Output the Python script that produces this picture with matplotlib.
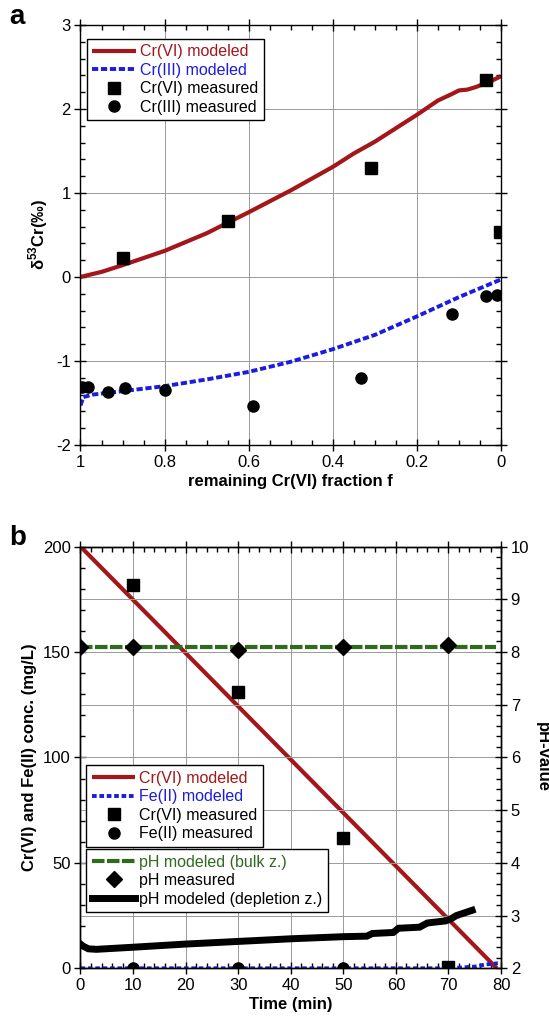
import numpy as np
import matplotlib
matplotlib.use('Agg')
from matplotlib import pyplot as plt
from matplotlib.ticker import MultipleLocator, FormatStrFormatter

plt.rcParams['font.family'] = ['Liberation Sans', 'DejaVu Sans']
plt.rcParams['mathtext.fontset'] = 'custom'
plt.rcParams['mathtext.rm'] = 'Liberation Sans'
plt.rcParams['mathtext.bf'] = 'Liberation Sans:bold'
plt.rcParams['axes.unicode_minus'] = False

RED = '#a3161a'
BLUE = '#1c1ce0'
GREEN = '#2f6a1f'

# ---- panel a: d53Cr vs remaining Cr(VI) fraction
f_cr6_model = [1.0, 0.95, 0.9, 0.8, 0.7, 0.6, 0.5, 0.4, 0.35, 0.3, 0.25, 0.2, 0.15, 0.12, 0.1, 0.08, 0.06, 0.04, 0.02, 0.0]
d_cr6_model = [0.0, 0.06, 0.14, 0.31, 0.52, 0.77, 1.03, 1.31, 1.47, 1.61, 1.77, 1.93, 2.1, 2.17, 2.22, 2.23, 2.26, 2.3, 2.34, 2.39]
f_cr3_model = [1.0, 0.993, 0.97, 0.9, 0.8, 0.7, 0.6, 0.5, 0.4, 0.3, 0.2, 0.1, 0.0]
d_cr3_model = [-1.53, -1.43, -1.40, -1.36, -1.30, -1.22, -1.13, -1.01, -0.86, -0.69, -0.47, -0.24, -0.03]
f_cr6_meas = [0.90, 0.65, 0.31, 0.035, 0.003]
d_cr6_meas = [0.23, 0.66, 1.30, 2.35, 0.53]
f_cr3_meas = [0.996, 0.982, 0.934, 0.894, 0.80, 0.59, 0.333, 0.117, 0.036, 0.009]
d_cr3_meas = [-1.31, -1.31, -1.37, -1.32, -1.35, -1.54, -1.20, -0.44, -0.23, -0.21]

# ---- panel b: concentrations and pH vs time
t_cr6_model = [0, 79.2]
c_cr6_model = [200, 0]
t_fe2_model = [0, 70, 72, 75, 77, 79.4]
c_fe2_model = [0, 0, 0.3, 0.8, 1.8, 2.4]
t_meas = [10, 30, 50, 70]
c_cr6_meas = [181.6, 131.2, 61.9, 0.5]
t_fe2_meas = [10, 30, 50]
c_fe2_meas = [0, 0, 0]
t_ph_bulk = [0, 79.1]
ph_bulk = [8.1, 8.1]
t_ph_meas = [0, 10, 30, 50, 70]
ph_meas = [8.09, 8.09, 8.03, 8.09, 8.14]
t_ph_depl = [0, 0.5, 1.5, 3, 10, 20, 30, 40, 50, 54.5, 55.5, 59.5, 60.5, 64.5, 66, 69.5, 70.5, 71.5, 73, 74.5]
ph_depl = [2.46, 2.42, 2.37, 2.36, 2.40, 2.46, 2.51, 2.56, 2.60, 2.61, 2.66, 2.68, 2.76, 2.78, 2.86, 2.90, 2.94, 3.00, 3.05, 3.10]


def style_axis(ax, left=True, right=True):
    ax.tick_params(which='major', direction='inout', length=8, width=1, labelsize=12, pad=3,
                   top=True, bottom=True, left=left, right=right)
    ax.tick_params(which='minor', direction='in', length=3.5, width=1,
                   top=True, bottom=True, left=left, right=right)
    for s in ax.spines.values():
        s.set_linewidth(1.0)


def color_legend(leg, colors):
    for txt, c in zip(leg.get_texts(), colors):
        txt.set_color(c)
    leg.get_frame().set_linewidth(1.0)
    leg.get_frame().set_edgecolor('black')


fig = plt.figure(figsize=(5.49, 10.25), dpi=100)
leg_kw = dict(fontsize=11.5, frameon=True, fancybox=False, framealpha=1, borderaxespad=0,
              handlelength=2.75, handletextpad=0.25, labelspacing=0.22, borderpad=0.35)

# panel a
axa = fig.add_axes([0.1466, 0.5659, 0.766, 0.4098])
axa.grid(True, which='major', color='#9a9a9a', lw=0.7)
axa.set_axisbelow(True)
l1, = axa.plot(f_cr6_model, d_cr6_model, color=RED, lw=3, solid_capstyle='butt')
l2, = axa.plot(f_cr3_model, d_cr3_model, color=BLUE, lw=2.8, ls=(0, (1.6, 0.7)))
m1, = axa.plot(f_cr6_meas, d_cr6_meas, 's', color='black', ms=8.5, ls='none')
m2, = axa.plot(f_cr3_meas, d_cr3_meas, 'o', color='black', ms=8, ls='none')
axa.set_xlim(1, 0)
axa.set_ylim(-2, 3)
axa.xaxis.set_major_locator(MultipleLocator(0.2))
axa.xaxis.set_minor_locator(MultipleLocator(0.05))
axa.yaxis.set_major_locator(MultipleLocator(1))
axa.yaxis.set_minor_locator(MultipleLocator(0.2))
axa.xaxis.set_major_formatter(FormatStrFormatter('%g'))
axa.yaxis.set_major_formatter(FormatStrFormatter('%g'))
style_axis(axa)
axa.tick_params(labelright=False)
axa.set_xlabel('remaining Cr(VI) fraction f', fontsize=12, fontweight='bold', labelpad=3)
axa.set_ylabel('δ$^{\\mathbf{53}}$Cr(‰)', fontsize=12, fontweight='bold', labelpad=4)
leg = axa.legend([l1, l2, m1, m2], ['Cr(VI) modeled', 'Cr(III) modeled', 'Cr(VI) measured', 'Cr(III) measured'],
                 loc='upper left', bbox_to_anchor=(0.0147, 0.967), **leg_kw)
color_legend(leg, [RED, BLUE, 'black', 'black'])
fig.text(0.016, 0.983, 'a', fontsize=20, fontweight='bold', va='center', ha='left')

# panel b
axb = fig.add_axes([0.1466, 0.0553, 0.766, 0.4115])
axb.grid(True, axis='x', which='major', color='#9a9a9a', lw=0.7)
axb.set_axisbelow(True)
b1, = axb.plot(t_cr6_model, c_cr6_model, color=RED, lw=3, solid_capstyle='butt')
b2, = axb.plot(t_fe2_model, c_fe2_model, color=BLUE, lw=2.8, ls=(0, (1.2, 0.7)))
bm1, = axb.plot(t_meas, c_cr6_meas, 's', color='black', ms=8.5, ls='none')
bm2, = axb.plot(t_fe2_meas, c_fe2_meas, 'o', color='black', ms=8, ls='none')
axb.set_xlim(0, 80)
axb.set_ylim(0, 200)
axb.xaxis.set_major_locator(MultipleLocator(10))
axb.xaxis.set_minor_locator(MultipleLocator(2))
axb.yaxis.set_major_locator(MultipleLocator(50))
axb.yaxis.set_minor_locator(MultipleLocator(10))
style_axis(axb, right=False)
axb.set_xlabel('Time (min)', fontsize=12, fontweight='bold', labelpad=3)
axb.set_ylabel('Cr(VI) and Fe(II) conc. (mg/L)', fontsize=12, fontweight='bold', labelpad=4)

axp = axb.twinx()
axp.grid(True, axis='y', which='major', color='#9a9a9a', lw=0.7)
p1, = axp.plot(t_ph_bulk, ph_bulk, color=GREEN, lw=3, ls=(0, (3.0, 0.6)))
p2, = axp.plot(t_ph_meas, ph_meas, 'D', color='black', ms=8, ls='none')
p3, = axp.plot(t_ph_depl, ph_depl, color='black', lw=5, solid_joinstyle='miter')
axp.set_ylim(2, 10)
axp.yaxis.set_major_locator(MultipleLocator(1))
axp.yaxis.set_minor_locator(MultipleLocator(0.2))
axp.yaxis.set_major_formatter(FormatStrFormatter('%g'))
style_axis(axp, left=False)
axp.set_ylabel('pH-value', fontsize=12, fontweight='bold', rotation=270, labelpad=4, va='bottom')

legb1 = axp.legend([b1, b2, bm1, bm2], ['Cr(VI) modeled', 'Fe(II) modeled', 'Cr(VI) measured', 'Fe(II) measured'],
                   loc='upper left', bbox_to_anchor=(0.013, 0.482), **leg_kw)
color_legend(legb1, [RED, BLUE, 'black', 'black'])
axp.add_artist(legb1)
legb2 = axp.legend([p1, p2, p3], ['pH modeled (bulk z.)', 'pH measured', 'pH modeled (depletion z.)'],
                   loc='upper left', bbox_to_anchor=(0.013, 0.283), **leg_kw)
color_legend(legb2, [GREEN, 'black', 'black'])
fig.text(0.016, 0.475, 'b', fontsize=20, fontweight='bold', va='center', ha='left')

plt.savefig('out.png', dpi=100)
plt.close()
